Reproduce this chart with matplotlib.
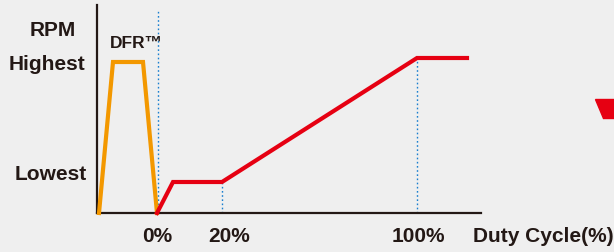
import matplotlib.pyplot as plt
from matplotlib.patches import Polygon

# schematic chart, units are relative to the axis origin
dfr_x = [2, 16, 46, 60]
dfr_y = [0, 151, 151, 0]

rpm_x = [60, 76, 125, 320, 370]
rpm_y = [0, 31, 31, 155, 155]

# dotted guide lines: (x, top)
guides = [(61, 203), (125, 31), (320, 155)]

tick_pos = [60, 132, 321]
tick_labels = ['0%', '20%', '100%']

bg = '#efefef'
dark = '#231815'
plt.rcParams['font.family'] = ['Liberation Sans', 'DejaVu Sans']

fig = plt.figure(figsize=(6.14, 2.52), dpi=100, facecolor=bg)
W, H = 614, 252
ax = fig.add_axes([97 / W, (H - 213) / H, 384 / W, 208 / H])
ax.set_facecolor(bg)
ax.set_xlim(0, 384)
ax.set_ylim(0, 208)
for s in ['top', 'right']:
    ax.spines[s].set_visible(False)
for s in ['left', 'bottom']:
    ax.spines[s].set_color(dark)
    ax.spines[s].set_linewidth(1.6)
ax.set_xticks([])
ax.set_yticks([])

for gx, gtop in guides:
    ax.plot([gx, gx], [0, gtop], color='#1a7fd0', lw=1, ls=(0, (1.2, 1.8)), clip_on=False, zorder=1)

ax.plot(dfr_x, dfr_y, color='#f39800', lw=3, solid_joinstyle='miter', clip_on=False, zorder=3)
ax.plot(rpm_x, rpm_y, color='#e60012', lw=3, solid_joinstyle='miter', clip_on=False, zorder=3)

fs = 15
txt = dict(fontweight='bold', color=dark, va='center', clip_on=False)
ax.text(-44, 182, 'RPM', ha='center', fontsize=fs, **txt)
ax.text(39, 170, 'DFR™', ha='center', fontsize=12.5, **txt)
ax.text(-50, 149, 'Highest', ha='center', fontsize=fs, **txt)
ax.text(-46, 39, 'Lowest', ha='center', fontsize=fs, **txt)
for p, lab in zip(tick_pos, tick_labels):
    ax.text(p, -23, lab, ha='center', fontsize=fs, **txt)
ax.text(376, -23, 'Duty Cycle(%)', ha='left', fontsize=fs, **txt)

# red corner mark at the right edge
fig.patches.append(Polygon([(595 / W, 1 - 99 / H), (614 / W, 1 - 99 / H), (614 / W, 1 - 118 / H), (603 / W, 1 - 118 / H)],
                           closed=True, transform=fig.transFigure, color='#e60012', figure=fig))

fig.savefig('out.png', dpi=100, facecolor=bg)
